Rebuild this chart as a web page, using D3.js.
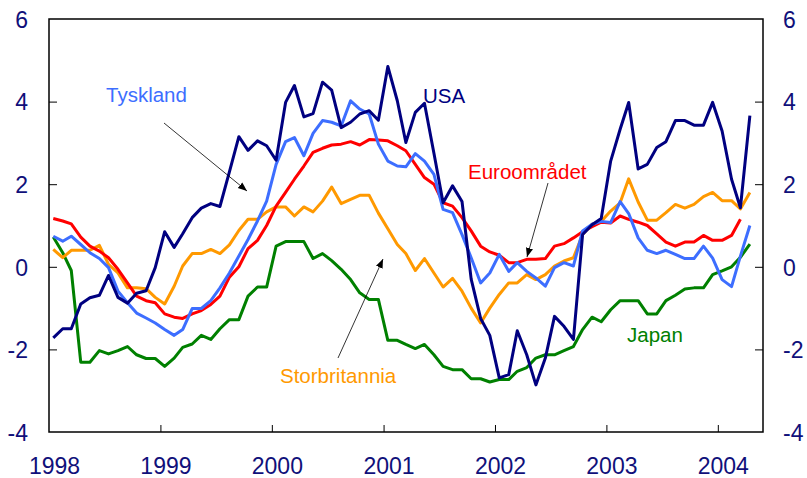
<!DOCTYPE html>
<html>
<head>
<meta charset="utf-8">
<script src="https://cdn.jsdelivr.net/npm/d3@7"></script>
<style>
  body { margin: 0; background: #fff; }
  svg { display: block; font-family: "Liberation Sans", Arial, sans-serif; }
</style>
</head>
<body>
<div class="chart"></div>
<script>
var width = 807
var height = 478

// monthly values, first month Jan 1998
var startYear = 1998
var years = [1998, 1999, 2000, 2001, 2002, 2003, 2004]
var yTicks = [-4, -2, 0, 2, 4, 6]

var usa = [-1.72, -1.50, -1.50, -0.90, -0.75, -0.69, -0.21, -0.74, -0.88, -0.64, -0.58, -0.02,
    0.85, 0.47, 0.80, 1.19, 1.42, 1.53, 1.46, 2.30, 3.15, 2.82, 3.05, 2.93,
    2.58, 3.98, 4.39, 3.63, 3.71, 4.47, 4.28, 3.37, 3.50, 3.70, 3.78, 3.55,
    4.85, 4.02, 3.01, 3.74, 3.96, 2.75, 1.55, 1.96, 1.58, -0.30, -1.25, -1.66,
    -2.69, -2.61, -1.55, -2.13, -2.86, -2.21, -1.20, -1.44, -1.76, 0.78, 1.02, 1.17,
    2.56, 3.33, 3.98, 2.37, 2.48, 2.89, 3.03, 3.54, 3.54, 3.43, 3.43, 3.98,
    3.29, 2.12, 1.43, 3.66]

var tyskland = [0.74, 0.62, 0.74, 0.54, 0.34, 0.20, -0.02, -0.59, -0.87, -1.12, -1.24, -1.36,
    -1.52, -1.66, -1.52, -1.01, -1.01, -0.82, -0.51, -0.15, 0.26, 0.66, 1.11, 1.59,
    2.48, 3.03, 3.13, 2.69, 3.23, 3.54, 3.50, 3.41, 4.02, 3.82, 3.70, 2.97,
    2.56, 2.44, 2.42, 2.74, 2.56, 2.24, 1.39, 1.31, 0.78, 0.22, -0.39, -0.15,
    0.30, -0.11, 0.10, -0.11, -0.27, -0.47, -0.02, 0.10, 0.02, 0.87, 1.03, 1.10,
    1.07, 1.58, 1.29, 0.70, 0.40, 0.32, 0.40, 0.30, 0.20, 0.20, 0.50, 0.21,
    -0.31, -0.48, 0.26, 1.00]

var euro = [1.17, 1.11, 1.04, 0.72, 0.50, 0.38, 0.22, -0.06, -0.39, -0.71, -0.82, -0.87,
    -1.14, -1.22, -1.25, -1.14, -1.06, -0.91, -0.71, -0.25, 0.00, 0.44, 0.64, 1.00,
    1.47, 1.80, 2.12, 2.44, 2.77, 2.87, 2.95, 2.97, 3.03, 2.95, 3.08, 3.07,
    3.05, 2.93, 2.81, 2.48, 2.16, 2.00, 1.55, 1.47, 1.19, 0.87, 0.50, 0.36,
    0.28, 0.10, 0.10, 0.18, 0.18, 0.20, 0.50, 0.56, 0.70, 0.85, 0.97, 1.08,
    1.06, 1.23, 1.15, 1.08, 1.00, 0.80, 0.60, 0.50, 0.60, 0.60, 0.76, 0.64,
    0.64, 0.76, 1.15]

var storbritannia = [0.42, 0.22, 0.40, 0.40, 0.40, 0.52, 0.06, -0.15, -0.51, -0.51, -0.53, -0.74,
    -0.90, -0.47, 0.02, 0.32, 0.32, 0.42, 0.32, 0.53, 0.88, 1.15, 1.15, 1.33,
    1.45, 1.45, 1.23, 1.45, 1.33, 1.59, 1.93, 1.53, 1.63, 1.73, 1.73, 1.30,
    0.92, 0.54, 0.32, -0.09, 0.20, -0.15, -0.49, -0.28, -0.59, -1.00, -1.36, -1.00,
    -0.67, -0.39, -0.39, -0.19, -0.31, -0.19, 0.02, 0.14, 0.22, 0.78, 1.03, 1.10,
    1.35, 1.55, 2.13, 1.57, 1.13, 1.13, 1.31, 1.51, 1.42, 1.51, 1.70, 1.80,
    1.60, 1.60, 1.40, 1.80]

var japan = [0.72, 0.34, -0.09, -2.31, -2.31, -2.03, -2.11, -2.03, -1.93, -2.13, -2.22, -2.22,
    -2.41, -2.21, -1.95, -1.87, -1.66, -1.76, -1.50, -1.28, -1.28, -0.71, -0.49, -0.49,
    0.50, 0.61, 0.61, 0.61, 0.20, 0.32, 0.15, -0.06, -0.31, -0.63, -0.79, -0.79,
    -1.78, -1.78, -1.88, -1.98, -1.88, -2.13, -2.41, -2.49, -2.49, -2.71, -2.71, -2.79,
    -2.73, -2.73, -2.53, -2.44, -2.21, -2.13, -2.13, -2.03, -1.93, -1.52, -1.22, -1.33,
    -1.04, -0.82, -0.82, -0.82, -1.14, -1.14, -0.82, -0.69, -0.54, -0.51, -0.51, -0.19,
    -0.10, 0.00, 0.23, 0.55]

var series = [
    { name: 'Japan', values: japan, color: '#008000' },
    { name: 'Storbritannia', values: storbritannia, color: '#ff9900' },
    { name: 'Euroområdet', values: euro, color: '#ff0000' },
    { name: 'Tyskland', values: tyskland, color: '#3d6eff' },
    { name: 'USA', values: usa, color: '#000080' }
]

var margin = { left: 49, right: 44, top: 19, bottom: 46 }
var x0 = margin.left, x1 = width - margin.right
var y0 = margin.top, y1 = height - margin.bottom

var x = d3.scaleTime()
    .domain([new Date(startYear, 0, 1), new Date(2004, 4, 28)])
    .range([x0, x1])
var y = d3.scaleLinear().domain([-4, 6]).range([y1, y0])

var canvas = d3.select('.chart').append('svg')
    .attr('width', width)
    .attr('height', height)

// plot frame
canvas.append('rect')
    .attr('x', x0).attr('y', y0)
    .attr('width', x1 - x0).attr('height', y1 - y0)
    .attr('fill', 'none')
    .attr('stroke', '#000')
    .attr('stroke-width', 1.5)

var navy = '#10107a'
var plain = function (d) { return String(d) } // hyphen minus like the original

var xAxis = canvas.append('g')
    .attr('transform', 'translate(0,' + y1 + ')')
    .call(d3.axisBottom(x)
        .tickValues(years.map(function (yr) { return new Date(yr, 0, 1) }))
        .tickFormat(d3.timeFormat('%Y'))
        .tickSizeInner(-7).tickSizeOuter(0).tickPadding(26))

var leftAxis = canvas.append('g')
    .attr('transform', 'translate(' + x0 + ',0)')
    .call(d3.axisLeft(y).tickValues(yTicks).tickFormat(plain)
        .tickSizeInner(-8).tickSizeOuter(0).tickPadding(21))

var rightAxis = canvas.append('g')
    .attr('transform', 'translate(' + x1 + ',0)')
    .call(d3.axisRight(y).tickValues(yTicks).tickFormat(plain)
        .tickSizeInner(-8).tickSizeOuter(0).tickPadding(20))

;[xAxis, leftAxis, rightAxis].forEach(function (g) {
    g.select('.domain').remove()
    g.selectAll('line').attr('stroke', '#000').attr('stroke-width', 1)
    g.selectAll('text')
        .attr('fill', navy)
        .style('font-size', '23px')
        .style('font-family', '"Liberation Sans", Arial, sans-serif')
})
// no tick marks at the frame corners
leftAxis.selectAll('.tick').filter(function (d) { return d === 6 || d === -4 }).select('line').remove()
rightAxis.selectAll('.tick').filter(function (d) { return d === 6 || d === -4 }).select('line').remove()
xAxis.selectAll('.tick').filter(function (d, i) { return i === 0 }).select('line').remove()
xAxis.selectAll('text').attr('dx', 5)
leftAxis.selectAll('text').attr('dy', '0.36em')
rightAxis.selectAll('text').attr('dy', '0.36em')

var line = d3.line()
    .x(function (d, i) { return x(new Date(startYear, i, 15)) })
    .y(function (d) { return y(d) })

series.forEach(function (s) {
    canvas.append('path')
        .datum(s.values)
        .attr('d', line)
        .attr('fill', 'none')
        .attr('stroke', s.color)
        .attr('stroke-width', 3)
        .attr('stroke-linejoin', 'round')
})

// labels and arrows
canvas.append('defs').append('marker')
    .attr('id', 'arrow')
    .attr('viewBox', '0 0 10 10')
    .attr('refX', 10).attr('refY', 5)
    .attr('markerWidth', 9).attr('markerHeight', 9)
    .attr('markerUnits', 'userSpaceOnUse')
    .attr('orient', 'auto')
    .append('path')
    .attr('d', 'M0,1 L10,5 L0,9 Z')
    .attr('fill', '#000')

var labels = [
    { text: 'Tyskland', color: '#3d6eff', x: 106, y: 102 },
    { text: 'USA', color: '#000080', x: 423, y: 103 },
    { text: 'Euroområdet', color: '#ff0000', x: 468, y: 179 },
    { text: 'Storbritannia', color: '#ff9900', x: 280, y: 383 },
    { text: 'Japan', color: '#008000', x: 627, y: 342 }
]
canvas.selectAll('text.label')
    .data(labels)
    .enter()
    .append('text')
    .attr('class', 'label')
    .attr('x', function (d) { return d.x })
    .attr('y', function (d) { return d.y })
    .attr('fill', function (d) { return d.color })
    .style('font-size', '20.5px')
    .text(function (d) { return d.text })

var arrows = [
    [164, 123, 247, 191],
    [548, 183, 527, 257],
    [338, 358, 383, 259]
]
canvas.selectAll('line.arrow')
    .data(arrows)
    .enter()
    .append('line')
    .attr('class', 'arrow')
    .attr('x1', function (d) { return d[0] })
    .attr('y1', function (d) { return d[1] })
    .attr('x2', function (d) { return d[2] })
    .attr('y2', function (d) { return d[3] })
    .attr('stroke', '#000')
    .attr('stroke-width', 0.8)
    .attr('marker-end', 'url(#arrow)')
</script>
</body>
</html>
